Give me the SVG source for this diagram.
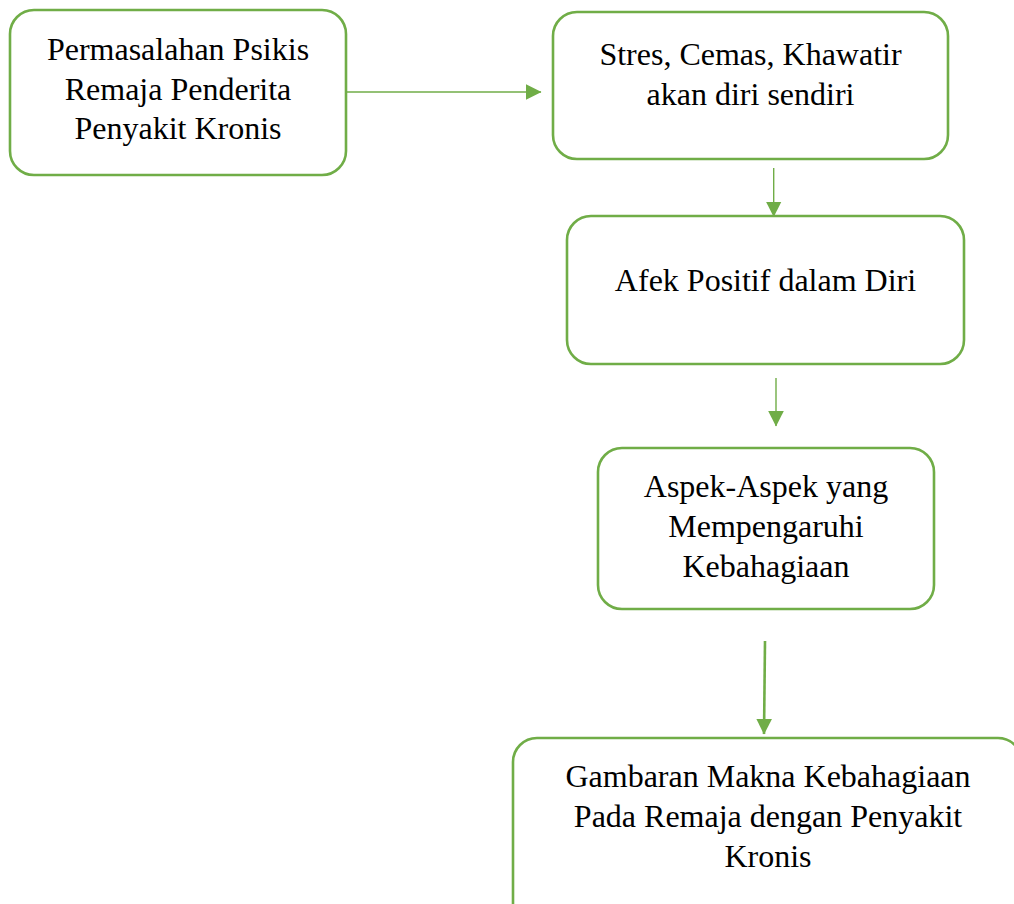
<svg xmlns="http://www.w3.org/2000/svg" width="1014" height="904" viewBox="0 0 1014 904">
<style>
.box{fill:#ffffff;stroke:#70AD47;stroke-width:2.6}
text{font-family:'Liberation Serif','Times New Roman',serif;font-size:32px;fill:#000000;text-anchor:middle}
.conn{stroke:#70AD47;fill:none;stroke-width:1.4}
.thick{stroke-width:2.6}
</style>
<defs>
<marker id="arr" markerUnits="userSpaceOnUse" markerWidth="16" markerHeight="16" viewBox="0 0 16 16" refX="15" refY="7.8" orient="auto">
<path d="M0,0 L15.5,7.8 L0,15.6 z" fill="#70AD47"/>
</marker>
</defs>
<rect width="1014" height="904" fill="#ffffff"/>
<g id="connectors">
<line class="conn" x1="347" y1="92" x2="541" y2="92" marker-end="url(#arr)"/>
<line class="conn" x1="773.7" y1="168" x2="773.7" y2="216.5" marker-end="url(#arr)"/>
<line class="conn" x1="776" y1="378" x2="776" y2="426" marker-end="url(#arr)"/>
<line class="conn thick" x1="765" y1="641" x2="764" y2="734" marker-end="url(#arr)"/>
</g>
<g id="node1">
<rect class="box" x="10" y="10" width="336" height="165" rx="24" ry="24"/>
<text x="178" y="60">Permasalahan Psikis</text>
<text x="178" y="100">Remaja Penderita</text>
<text x="178" y="139">Penyakit Kronis</text>
</g>
<g id="node2">
<rect class="box" x="553" y="12" width="395" height="147" rx="24" ry="24"/>
<text x="750.5" y="65">Stres, Cemas, Khawatir</text>
<text x="750.5" y="105">akan diri sendiri</text>
</g>
<g id="node3">
<rect class="box" x="567" y="216" width="397" height="148" rx="24" ry="24"/>
<text x="765.5" y="291">Afek Positif dalam Diri</text>
</g>
<g id="node4">
<rect class="box" x="598" y="448" width="336" height="161" rx="24" ry="24"/>
<text x="766" y="497">Aspek-Aspek yang</text>
<text x="766" y="537">Mempengaruhi</text>
<text x="766" y="577">Kebahagiaan</text>
</g>
<g id="node5">
<rect class="box" x="513" y="738" width="509" height="200" rx="24" ry="24"/>
<text x="768" y="787">Gambaran Makna Kebahagiaan</text>
<text x="768" y="827">Pada Remaja dengan Penyakit</text>
<text x="768" y="867">Kronis</text>
</g>
</svg>
